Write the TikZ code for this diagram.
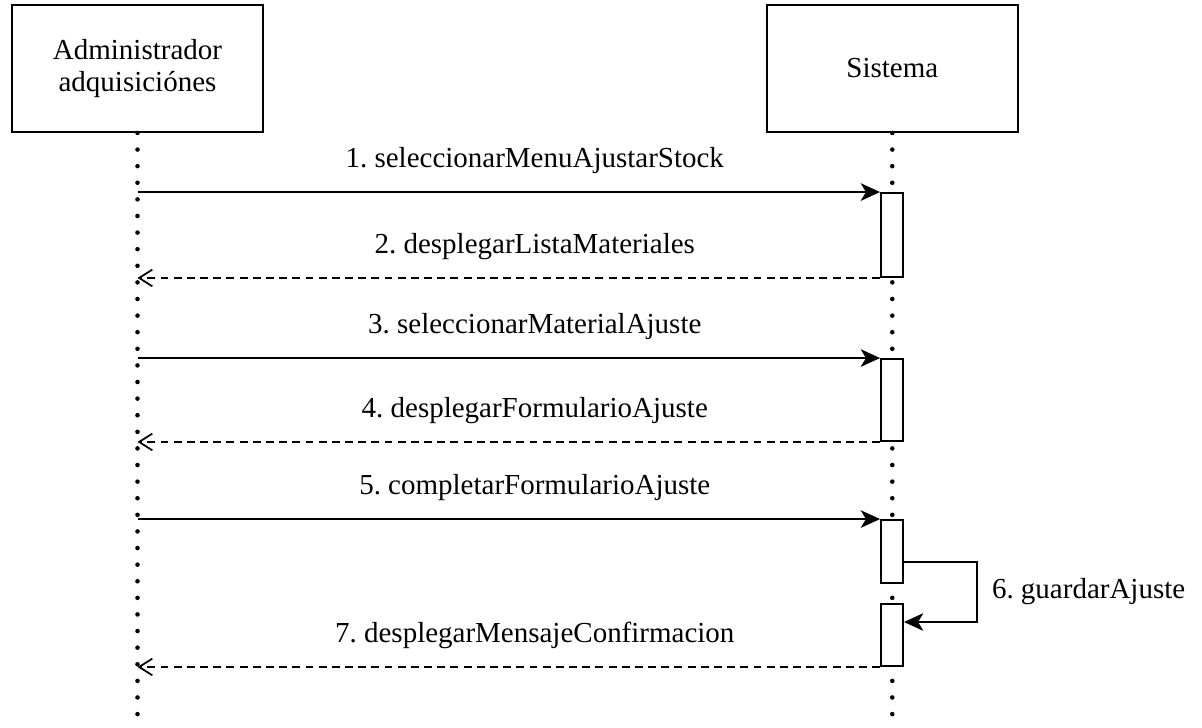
\documentclass[tikz,border=0pt]{standalone}
\usepackage{fontspec}
\setmainfont{Liberation Serif}
\frenchspacing
\usetikzlibrary{arrows.meta,positioning}
\tikzset{
	%Define style for the participants
	actor/.style={
		rectangle,
		draw=black, line width=1.1pt,
		minimum width=5.02cm,
		minimum height=2.54cm,
		align=center,
		font=\fontsize{16.5}{18}\selectfont},
	%Define style for activation bars
	activacion/.style={
		rectangle,
		draw=black, line width=1.1pt,
		fill=white,
		minimum width=0.44cm,
		inner sep=0pt},
	% Define lifeline style
	vida/.style={
		line width=2.6pt,
		line cap=round,
		dash pattern=on 0pt off 9.45pt},
	% Define message styles
	llamada/.style={
		-{Stealth[length=11pt,width=10pt,inset=3pt]},
		line width=1.1pt},
	retorno/.style={
		-{Straight Barb[length=7.5pt,width=9.5pt]},
		line width=1pt,
		dash pattern=on 4.5pt off 3pt},
	etiqueta/.style={
		anchor=base,
		yshift=14pt,
		inner sep=0pt,
		font=\fontsize{16.5}{18}\selectfont}
}
\begin{document}
\begin{tikzpicture}[x=0.02cm, y=-0.02cm]
	
	\useasboundingbox (0,0) rectangle (1202,727);
	
	\node[actor] (admin) at (137.5,68.5) {Administrador\\adquisiciónes};
	\node[actor, right =10.04cm of admin] (sistema) {Sistema};
	
	% lifelines
	\draw[vida] (admin.south) -- (admin.south |- 0,727);
	\draw[vida] (sistema.south) -- (sistema.south |- 0,727);
	
	% activation bars
	\node[activacion, minimum height=1.68cm] (act1) at (892,235) {};
	\node[activacion, minimum height=1.64cm] (act2) at (892,400) {};
	\node[activacion, minimum height=1.26cm] (act3) at (892,551.5) {};
	\node[activacion, minimum height=1.24cm] (act4) at (892,635) {};
	
	\draw[llamada] (admin.south |- act1.north) -- node[etiqueta, pos=.535] {1. seleccionarMenuAjustarStock} (act1.north west);
	\draw[retorno] (act1.south west) -- node[etiqueta, pos=.465] {2. desplegarListaMateriales} (admin.south |- act1.south);
	\draw[llamada] (admin.south |- act2.north) -- node[etiqueta, pos=.535] {3. seleccionarMaterialAjuste} (act2.north west);
	\draw[retorno] (act2.south west) -- node[etiqueta, pos=.465] {4. desplegarFormularioAjuste} (admin.south |- act2.south);
	\draw[llamada] (admin.south |- act3.north) -- node[etiqueta, pos=.535] {5. completarFormularioAjuste} (act3.north west);
	\draw[llamada] ([yshift=-0.21cm]act3.east) -- ++(73,0) |- node[pos=.25, right, xshift=8pt, font=\fontsize{16.5}{18}\selectfont, inner sep=0pt] {6. guardarAjuste} ([yshift=0.26cm]act4.east);
	\draw[retorno] (act4.south west) -- node[etiqueta, pos=.465] {7. desplegarMensajeConfirmacion} (admin.south |- act4.south);
	
\end{tikzpicture}
\end{document}
